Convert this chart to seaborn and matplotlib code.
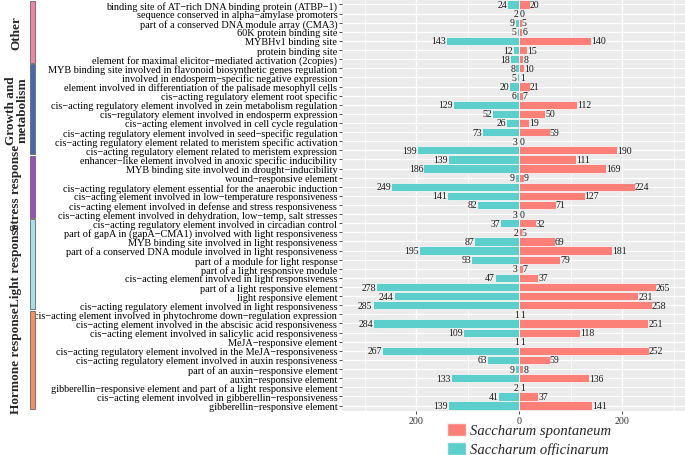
import matplotlib
matplotlib.use("Agg")
import matplotlib.pyplot as plt
import matplotlib.transforms as mtransforms
from matplotlib.patches import Rectangle, Patch
from matplotlib.ticker import FixedLocator, FuncFormatter
import seaborn as sns
import pandas as pd

# cis-element names, top to bottom
elements = [
    "binding site of AT\u2212rich DNA binding protein (ATBP\u22121)",
    "sequence conserved in alpha\u2212amylase promoters",
    "part of a conserved DNA module array (CMA3)",
    "60K protein binding site",
    "MYBHv1 binding site",
    "protein binding site",
    "element for maximal elicitor\u2212mediated activation (2copies)",
    "MYB binding site involved in flavonoid biosynthetic genes regulation",
    "involved in endosperm\u2212specific negative expression",
    "element involved in differentiation of the palisade mesophyll cells",
    "cis\u2212acting regulatory element root specific",
    "cis\u2212acting regulatory element involved in zein metabolism regulation",
    "cis\u2212regulatory element involved in endosperm expression",
    "cis\u2212acting element involved in cell cycle regulation",
    "cis\u2212acting regulatory element involved in seed\u2212specific regulation",
    "cis\u2212acting regulatory element related to meristem specific activation",
    "cis\u2212acting regulatory element related to meristem expression",
    "enhancer\u2212like element involved in anoxic specific inducibility",
    "MYB binding site involved in drought\u2212inducibility",
    "wound\u2212responsive element",
    "cis\u2212acting regulatory element essential for the anaerobic induction",
    "cis\u2212acting element involved in low\u2212temperature responsiveness",
    "cis\u2212acting element involved in defense and stress responsiveness",
    "cis\u2212acting element involved in dehydration, low\u2212temp, salt stresses",
    "cis\u2212acting regulatory element involved in circadian control",
    "part of gapA in (gapA\u2212CMA1) involved with light responsiveness",
    "MYB binding site involved in light responsiveness",
    "part of a conserved DNA module involved in light responsiveness",
    "part of a module for light response",
    "part of a light responsive module",
    "cis\u2212acting element involved in light responsiveness",
    "part of a light responsive element",
    "light responsive element",
    "cis\u2212acting regulatory element involved in light responsiveness",
    "cis\u2212acting element involved in phytochrome down\u2212regulation expression",
    "cis\u2212acting element involved in the abscisic acid responsiveness",
    "cis\u2212acting element involved in salicylic acid responsiveness",
    "MeJA\u2212responsive element",
    "cis\u2212acting regulatory element involved in the MeJA\u2212responsiveness",
    "cis\u2212acting regulatory element involved in auxin responsiveness",
    "part of an auxin\u2212responsive element",
    "auxin\u2212responsive element",
    "gibberellin\u2212responsive element and part of a light responsive element",
    "cis\u2212acting element involved in gibberellin\u2212responsiveness",
    "gibberellin\u2212responsive element",
]

officinarum = [24, 2, 9, 5, 143, 12, 18,
               8, 5, 20, 6, 129, 52, 26, 73, 3, 199,
               139, 186, 9, 249, 141, 82, 3,
               37, 2, 87, 195, 93, 3, 47, 278, 244, 285,
               1, 284, 109, 1, 267, 63, 9, 133, 2, 41, 139]
spontaneum = [20, 0, 5, 6, 140, 15, 8,
              10, 1, 21, 7, 112, 50, 19, 59, 0, 190,
              111, 169, 9, 224, 127, 71, 0,
              32, 5, 69, 181, 79, 7, 37, 265, 231, 258,
              1, 251, 118, 1, 252, 59, 8, 136, 1, 37, 141]

groups = ["Other", "Growth and\nmetabolism", "Stress response", "Light response", "Hormone response"]
group_sizes = [7, 10, 7, 10, 11]
group_colors = ["#EE86A2", "#4A68B0", "#9B4EBF", "#AADDE5", "#F2905F"]

species = ["Saccharum spontaneum", "Saccharum officinarum"]
species_colors = ["#FC7F78", "#5CCECB"]

df = pd.concat([
    pd.DataFrame({"Element": elements, "Count": spontaneum, "Species": species[0]}),
    pd.DataFrame({"Element": elements, "Count": [-v for v in officinarum], "Species": species[1]}),
])

sns.set_theme(style="darkgrid")
plt.rcParams["font.family"] = ["Liberation Serif", "DejaVu Serif"]
plt.rcParams["axes.facecolor"] = "#EBEBEB"

fig = plt.figure(figsize=(6.85, 4.56), dpi=100)
ax = fig.add_axes([0.4995, 0.0965, 0.5005, 0.9035])
ax.set_facecolor("#EBEBEB")

sns.barplot(data=df, y="Element", x="Count", hue="Species", order=elements,
            hue_order=species, palette=species_colors, dodge=False, width=0.9,
            saturation=1, orient="h", edgecolor="#F4F4F4", linewidth=0.6,
            legend=False, ax=ax)

ax.set_xlim(-344, 322)
ax.set_ylim(len(elements) - 0.4, -0.6)
ax.xaxis.set_major_locator(FixedLocator([-200, 0, 200]))
ax.xaxis.set_minor_locator(FixedLocator([-300, -100, 100, 300]))
ax.xaxis.set_major_formatter(FuncFormatter(lambda v, p: f"{abs(int(v))}"))
ax.grid(which="major", color="white", linewidth=1.0)
ax.grid(which="minor", axis="x", color="white", linewidth=0.5)
ax.set_xlabel("")
ax.set_ylabel("")
for s in ax.spines.values():
    s.set_visible(False)
ax.tick_params(axis="y", labelsize=7.4, length=2.5, width=0.6, color="#333333",
               pad=1, labelcolor="black", left=True)
ax.tick_params(axis="x", labelsize=7.2, length=2.5, width=0.6, color="#333333",
               pad=1, labelcolor="#333333", bottom=True)

# value labels
for i, (o, s) in enumerate(zip(officinarum, spontaneum)):
    ax.text(-o, i, str(o), ha="right", va="center", fontsize=7, color="#1A1A1A")
    ax.text(s, i, str(s), ha="left", va="center", fontsize=7, color="#1A1A1A")

# group bars and labels on the far left
trans = mtransforms.blended_transform_factory(fig.transFigure, ax.transData)
start = 0
for name, n, col in zip(groups, group_sizes, group_colors):
    y0 = start - 0.5 + 0.08
    y1 = start + n - 0.5 - 0.08
    ax.add_patch(Rectangle((0.044, y0), 0.007, y1 - y0, transform=trans,
                           facecolor=col, edgecolor="#666666", linewidth=0.6,
                           clip_on=False))
    ax.text(0.024, (y0 + y1) / 2, name, transform=trans, rotation=90,
            ha="center", va="center", fontsize=9.5, fontweight="bold",
            linespacing=0.95, multialignment="center")
    start += n

handles = [Patch(facecolor=c, edgecolor="#F4F4F4") for c in species_colors]
fig.legend(handles, species, loc="upper left", bbox_to_anchor=(0.652, 0.071),
           frameon=False, borderpad=0, borderaxespad=0,
           prop={"family": "Liberation Serif", "style": "italic", "size": 10.5},
           handlelength=1.3, handleheight=1.0, labelspacing=0.3, handletextpad=0.3)

fig.savefig("out.png", dpi=100)
